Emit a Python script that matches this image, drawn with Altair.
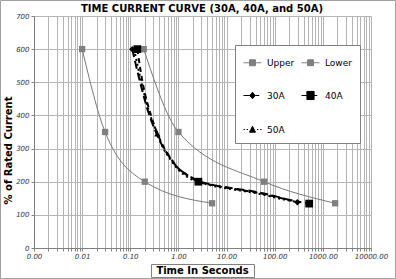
import altair as alt
import pandas as pd
import numpy as np

# ---------------- data ----------------
chart_title = "TIME CURRENT CURVE (30A, 40A, and 50A)"
series_names = ["Upper", "Lower", "30A", "40A", "50A"]

upper_time = [0.19, 1.0, 60, 1800]
upper_current = [600, 350, 200, 135]
lower_time = [0.01, 0.030, 0.2, 5.0]
lower_current = [600, 350, 200, 135]

a30_time = [0.11, 0.16, 0.25, 0.34, 0.45, 0.65, 0.95, 1.5, 2.4, 5, 10, 50, 150, 295]
a30_current = [600, 500, 400, 350, 312, 275, 243, 221, 205, 191, 183, 167, 150, 138]
a40_time = [0.14, 0.18, 0.27, 0.36, 0.48, 0.68, 1.0, 1.6, 2.6, 5, 10, 50, 200, 520]
a40_current = [600, 500, 400, 348, 308, 272, 240, 218, 200, 190, 182, 165, 145, 134]
a50_time = [0.12, 0.17, 0.26, 0.365, 0.47, 0.66, 0.97, 1.5, 2.5, 5, 10, 50, 200, 380]
a50_current = [600, 500, 400, 345, 305, 270, 238, 215, 200, 188, 180, 163, 143, 137]

# marker points shown on the black curves
m30_time = [0.11, 295]
m30_current = [600, 138]
m40_time = [0.14, 2.6, 520]
m40_current = [600, 200, 134]
m50_time = [0.365]
m50_current = [345]

y_ticks = [0, 100, 200, 300, 400, 500, 600, 700]

# ---------------- tables ----------------
def frame(name, t, c):
    return pd.DataFrame({"series": name, "t": t, "c": c, "order": range(len(t))})

gray_df = pd.concat([frame("Upper", upper_time, upper_current),
                     frame("Lower", lower_time, lower_current)])
d30 = frame("30A", a30_time, a30_current)
d40 = frame("40A", a40_time, a40_current)
d50 = frame("50A", a50_time, a50_current)
mk30 = frame("30A", m30_time, m30_current)
mk40 = frame("40A", m40_time, m40_current)
mk50 = frame("50A", m50_time, m50_current)

x_values = []
for d in range(-3, 4):
    for k in range(1, 10):
        x_values.append(round(k * 10.0 ** d, 6))
x_values.append(10000.0)

W, H = 337, 232
GRID = "#b4b4b4"
GRAY = "#787878"
FONT = "DejaVu Sans"

xscale = alt.Scale(type="log", domain=[0.001, 10000], nice=False)
yscale = alt.Scale(domain=[0, 700], nice=False)

xaxis = alt.Axis(
    values=x_values,
    labelExpr="abs(log(datum.value)/LN10 - round(log(datum.value)/LN10)) < 0.0001 ? format(datum.value, '.2f') : ''",
    grid=True, gridColor=GRID, gridWidth=1,
    domainColor="#808080", tickColor="#808080", tickSize=3,
    labelFont=FONT, labelFontSize=7, labelFontStyle="italic", labelColor="#333333",
    labelPadding=1, labelFlush=False, labelOverlap=False,
    title="Time In Seconds", titleFont=FONT, titleFontSize=10, titleFontWeight="bold",
    titleColor="#000000", titleX=168, titleY=22, titleBaseline="middle", titleAlign="center",
)
yaxis = alt.Axis(
    values=y_ticks, format="d",
    grid=True, gridColor=GRID, gridWidth=1,
    domainColor="#808080", tickColor="#808080", tickSize=3,
    labelFont=FONT, labelFontSize=7, labelFontStyle="italic", labelColor="#333333",
    labelPadding=2, labelOverlap=False, labelFlush=False,
    title="% of Rated Current", titleFont=FONT, titleFontSize=10, titleFontWeight="bold",
    titleColor="#000000", titleX=-26, titleY=134, titleBaseline="middle", titleAlign="center",
    titleAngle=270,
)

X = alt.X("t:Q", scale=xscale, axis=xaxis)
Y = alt.Y("c:Q", scale=yscale, axis=yaxis)

gray_lines = alt.Chart(gray_df).mark_line(
    color=GRAY, strokeWidth=1, interpolate="monotone"
).encode(x=X, y=Y, detail="series:N", order="order:Q")

gray_pts = alt.Chart(gray_df).mark_point(
    shape="square", filled=True, color="#808080", size=40, opacity=1
).encode(x=X, y=Y)

def black_line(df, dash):
    return alt.Chart(df).mark_line(
        color="black", strokeWidth=2, strokeDash=dash, interpolate="monotone"
    ).encode(x=X, y=Y, order="order:Q")

l30 = black_line(d30, [8, 4])
l40 = black_line(d40, [5, 4])
l50 = black_line(d50, [2, 3])

p30 = alt.Chart(mk30).mark_point(shape="diamond", filled=True, color="black",
                                 size=40, opacity=1).encode(x=X, y=Y)
p40 = alt.Chart(mk40).mark_point(shape="square", filled=True, color="black",
                                 size=60, opacity=1).encode(x=X, y=Y)
p50 = alt.Chart(mk50).mark_point(shape="triangle-up", filled=True, color="black",
                                 size=40, opacity=1).encode(x=X, y=Y)

# legend (from an empty layer with explicit domains)
sym_paths = [
    "M-1,0H-0.33M0.33,0H1M-0.33,-0.33H0.33V0.33H-0.33Z",
    "M-1,0H-0.33M0.33,0H1M-0.33,-0.33H0.33V0.33H-0.33Z",
    "M-1,0H-0.3M0.3,0H0.75M0,-0.36L0.3,0L0,0.36L-0.3,0Z",
    "M-1,0H-0.4M0.4,0H0.75M-0.4,-0.45H0.4V0.45H-0.4Z",
    "M-1,0H-0.85M-0.65,0H-0.5M0.5,0H0.65M0.85,0H1M0,-0.36L0.33,0.3H-0.33Z",
]
sym_colors = ["#808080", "#808080", "black", "black", "black"]
legend = alt.Legend(
    title=None, orient="none", legendX=201, legendY=29, columns=2,
    direction="horizontal",
    strokeColor="#808080", fillColor="white", padding=8,
    rowPadding=18, columnPadding=4, labelOffset=5,
    symbolSize=324, labelFont=FONT, labelFontSize=9, labelColor="#000000",
    symbolOpacity=1,
)
leg_df = pd.concat([mk30, mk40, mk50, gray_df])
leg_layer = alt.Chart(leg_df).mark_point().encode(
    x=X, y=Y,
    shape=alt.Shape("series:N", scale=alt.Scale(domain=series_names, range=sym_paths), legend=legend),
    fill=alt.Fill("series:N", scale=alt.Scale(domain=series_names, range=sym_colors), legend=legend),
    stroke=alt.Stroke("series:N", scale=alt.Scale(domain=series_names, range=sym_colors), legend=legend),
    strokeWidth=alt.StrokeWidth("series:N", scale=alt.Scale(domain=series_names, range=[1, 1, 2, 2, 2]), legend=legend),
).transform_filter("false")

# decorations: title, outer border and x-title box
deco_df = pd.DataFrame({"k": [0]})
title_text = alt.Chart(deco_df).mark_text(
    text=chart_title, font=FONT, fontSize=10, fontWeight="bold", color="#000000",
    align="center", baseline="middle"
).encode(x=alt.value(168), y=alt.value(-7))
border = alt.Chart(deco_df).mark_rect(fill=None, stroke="#a0a0a0", strokeWidth=1).encode(
    x=alt.value(-33.5), x2=alt.value(W + 24.5), y=alt.value(-15.5), y2=alt.value(H + 30.5)
)
title_box = alt.Chart(deco_df).mark_rect(fill=None, stroke="#808080", strokeWidth=1).encode(
    x=alt.value(117.5), x2=alt.value(220.5), y=alt.value(248.5), y2=alt.value(261.5)
)

chart = alt.layer(
    gray_lines, gray_pts, l30, l40, l50, p30, p40, p50, leg_layer, title_box, border, title_text
).properties(
    width=W, height=H,
    autosize=alt.AutoSizeParams(type="none"),
    padding={"left": 34, "top": 16, "right": 25, "bottom": 31},
).configure_view(stroke=None).configure_axis(labelOverlap=False).configure(background="white")

chart.save("out.html", embed_options={"renderer": "svg", "actions": False})
